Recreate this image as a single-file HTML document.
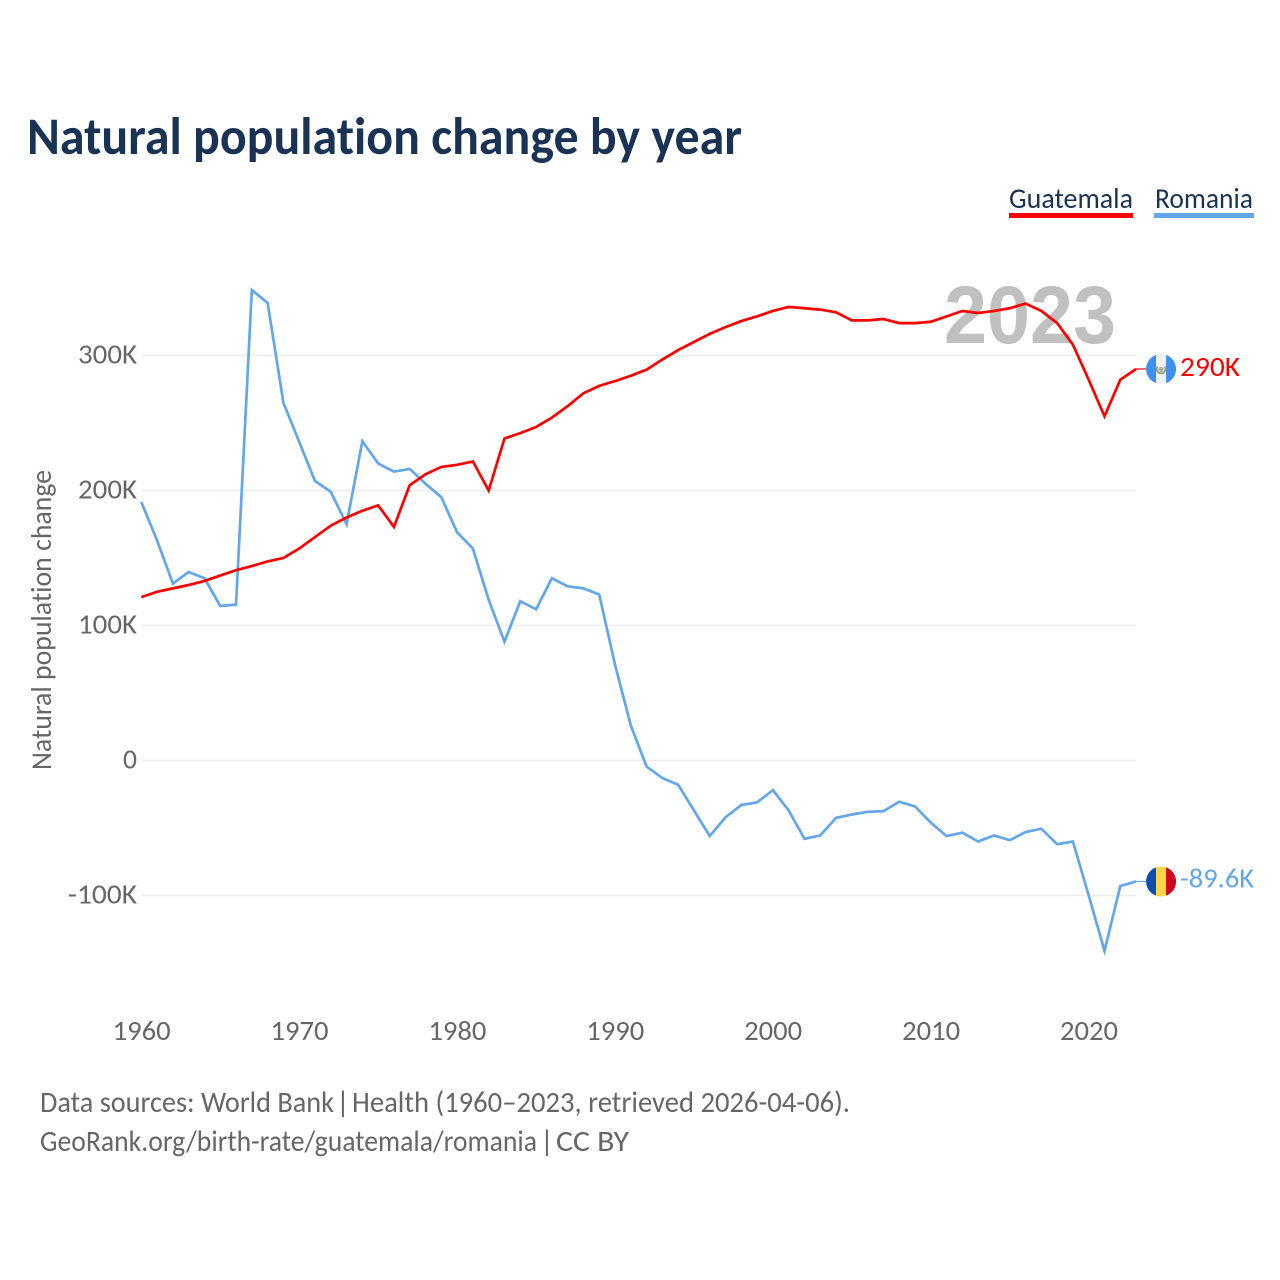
<!DOCTYPE html>
<html lang="en">
<head>
<meta charset="utf-8">
<title>Natural population change by year</title>
<style>
html,body{margin:0;padding:0;background:#fff;}
svg{display:block;font-family:"Carlito","Lato","Liberation Sans",sans-serif;font-variant-ligatures:none;}
</style>
</head>
<body>
<svg id="chart" xmlns="http://www.w3.org/2000/svg" width="1280" height="1280" viewBox="0 0 1280 1280">
  <rect x="0" y="0" width="1280" height="1280" fill="#ffffff"/>
  <text x="27" y="154" font-size="53" font-weight="700" fill="#1a3354" textLength="715" lengthAdjust="spacingAndGlyphs">Natural population change by year</text>

  <g>
    <text x="1009" y="208" font-size="29" fill="#1a3354" textLength="124" lengthAdjust="spacingAndGlyphs">Guatemala</text>
    <rect x="1009" y="213" width="124" height="5" fill="#ff0000"/>
  </g>
  <g>
    <text x="1155" y="208" font-size="29" fill="#1a3354" textLength="98" lengthAdjust="spacingAndGlyphs">Romania</text>
    <rect x="1154" y="213" width="100" height="5" fill="#63a6ea"/>
  </g>

  <text transform="translate(51,770) rotate(-90)" font-size="28.5" fill="#666666" textLength="300" lengthAdjust="spacingAndGlyphs">Natural population change</text>

  <g id="grid"></g>
  <g id="yticks"></g>
  <g id="xticks"></g>

  <text x="1030" y="343" text-anchor="middle" font-family="'Liberation Sans',sans-serif" font-size="82" font-weight="700" fill="#c0c0c0" textLength="172" lengthAdjust="spacingAndGlyphs">2023</text>

  <g id="series"></g>
  <g id="endpoints"></g>

  <g font-size="30" fill="#666666">
    <text x="40" y="1112" textLength="294" lengthAdjust="spacingAndGlyphs">Data sources: World Bank</text>
    <text x="336" y="1112">|</text>
    <text x="352" y="1112" textLength="498" lengthAdjust="spacingAndGlyphs">Health (1960–2023, retrieved 2026-04-06).</text>
  </g>
  <g font-size="30" fill="#666666">
    <text x="40" y="1151" textLength="497" lengthAdjust="spacingAndGlyphs">GeoRank.org/birth-rate/guatemala/romania</text>
    <text x="540" y="1151">|</text>
    <text x="556" y="1151" textLength="73" lengthAdjust="spacingAndGlyphs">CC BY</text>
  </g>
</svg>

<script>
const startYear = 1960;
const yTickValues = [300000, 200000, 100000, 0, -100000];
const yTickLabels = ["300K", "200K", "100K", "0", "-100K"];
const xTickValues = [1960, 1970, 1980, 1990, 2000, 2010, 2020];
const xTickLabels = ["1960", "1970", "1980", "1990", "2000", "2010", "2020"];
const guatemalaValues = [
  121, 125, 127.5, 130, 133, 137, 141, 144, 147.5, 150,
  157, 165.5, 174, 180, 185, 189, 173, 204, 212, 217.5,
  219, 221.5, 200, 238.5, 242.5, 247, 254, 262.5, 272, 277.5,
  281, 285, 289.5, 297, 304, 310, 316, 321, 325.5, 329,
  333, 336, 335, 334, 332, 326, 326, 327, 324, 324,
  325, 329, 333, 331.5, 333, 335, 338.5, 333, 324, 308,
  282, 255, 282, 290
];
const romaniaValues = [
  191.5, 163, 131, 139.6, 135, 114.5, 115.5, 348.5, 339, 265,
  236, 207, 199, 175, 236.5, 220, 214, 216, 205, 195,
  169, 157, 119, 88, 118, 112, 135, 129, 127.5, 123,
  71, 26, -4.5, -13, -18, -37, -56, -42, -33, -31,
  -22, -37, -58, -55.5, -42.5, -40, -38, -37.5, -30.5, -34,
  -46, -56, -53.5, -60, -55.5, -59, -53, -50.5, -62, -60,
  -100, -141, -93, -89.6
];
const guatemalaLabel = "290K";
const romaniaLabel = "-89.6K";

const NS = "http://www.w3.org/2000/svg";
function xScale(year) { return 141.3 + (year - 1960) * 15.79; }
function yScale(value) { return 760.5 - value * 0.00135; }

function make(tag, attrs, parent, text) {
  const el = document.createElementNS(NS, tag);
  for (const k in attrs) el.setAttribute(k, attrs[k]);
  if (text !== undefined) el.textContent = text;
  parent.appendChild(el);
  return el;
}

const grid = document.getElementById("grid");
const yticks = document.getElementById("yticks");
yTickValues.forEach(function (v, i) {
  const line = make("line", { x1: 142, x2: 1136, y1: yScale(v), y2: yScale(v), stroke: "#ececec", "stroke-width": 1.6 }, grid);
  
  
  const w = yTickLabels[i].length === 1 ? 14 : (yTickLabels[i].length === 5 ? 69 : 59);
  const t = make("text", { x: 137, y: yScale(v) + 8, "text-anchor": "end", "font-size": 28, fill: "#666666", textLength: w, lengthAdjust: "spacingAndGlyphs" }, yticks, yTickLabels[i]);
  
  
});

const xticks = document.getElementById("xticks");
xTickValues.forEach(function (yr, i) {
  const t = make("text", { x: xScale(yr) + 0.3, y: 1040, "text-anchor": "middle", "font-size": 28, fill: "#666666", textLength: 58, lengthAdjust: "spacingAndGlyphs" }, xticks, xTickLabels[i]);
  
  
});

function pathFor(values) {
  return values.map(function (v, i) {
    return (i ? "L" : "M") + xScale(startYear + i).toFixed(2) + " " + yScale(v * 1000).toFixed(2);
  }).join(" ");
}

const series = document.getElementById("series");
const romaniaLine = make("path", { d: pathFor(romaniaValues), fill: "none", stroke: "#63a6ea", "stroke-width": 2.7, "stroke-linejoin": "miter" }, series);


const guatemalaLine = make("path", { d: pathFor(guatemalaValues), fill: "none", stroke: "#ff0000", "stroke-width": 2.7, "stroke-linejoin": "miter" }, series);



const endpoints = document.getElementById("endpoints");
const lastX = xScale(startYear + guatemalaValues.length - 1);
const flagX = lastX + 25;
const labelX = flagX + 19;

function stripe(parent, clipId, x, w, y, fill) {
  const r = make("rect", { x: x, y: y - 16, width: w, height: 32, fill: fill, "clip-path": "url(#" + clipId + ")" }, parent);
  
  
}

const defs = make("defs", {}, endpoints);

// Guatemala endpoint
const gY = yScale(guatemalaValues[guatemalaValues.length - 1] * 1000);
const gLead = make("line", { x1: lastX, x2: flagX - 14, y1: gY, y2: gY, stroke: "#ff0000", "stroke-width": 1.2 }, endpoints);


const gClip = make("clipPath", { id: "clip-gt" }, defs);
make("circle", { cx: flagX, cy: gY, r: 15 }, gClip);
const gFlag = make("g", {}, endpoints);


stripe(gFlag, "clip-gt", flagX - 16, 11, gY, "#3d8ff0");
stripe(gFlag, "clip-gt", flagX - 5, 10, gY, "#f0f0f0");
stripe(gFlag, "clip-gt", flagX + 5, 11, gY, "#3d8ff0");
const seal = make("circle", { cx: flagX, cy: gY + 0.5, r: 2.6, fill: "#aeb2a8" }, gFlag);


const wreath = make("path", { d: "M" + (flagX - 3.6) + " " + (gY - 2.5) + " A4.4 4.4 0 1 0 " + (flagX + 3.6) + " " + (gY - 2.5), fill: "none", stroke: "#86a860", "stroke-width": 1.7 }, gFlag);


const gText = make("text", { x: labelX, y: gY + 7, "font-size": 28, fill: "#ff0000", textLength: 60, lengthAdjust: "spacingAndGlyphs" }, endpoints, guatemalaLabel);



// Romania endpoint
const rY = yScale(romaniaValues[romaniaValues.length - 1] * 1000);
const rLead = make("line", { x1: lastX, x2: flagX - 14, y1: rY, y2: rY, stroke: "#63a6ea", "stroke-width": 1.2 }, endpoints);


const rClip = make("clipPath", { id: "clip-ro" }, defs);
make("circle", { cx: flagX, cy: rY, r: 15 }, rClip);
const rFlag = make("g", {}, endpoints);


stripe(rFlag, "clip-ro", flagX - 16, 11, rY, "#0a4fb0");
stripe(rFlag, "clip-ro", flagX - 5, 10, rY, "#fdd444");
stripe(rFlag, "clip-ro", flagX + 5, 11, rY, "#d0061f");
const rText = make("text", { x: labelX, y: rY + 6, "font-size": 28, fill: "#63a6ea", textLength: 74, lengthAdjust: "spacingAndGlyphs" }, endpoints, romaniaLabel);


</script>
</body>
</html>
